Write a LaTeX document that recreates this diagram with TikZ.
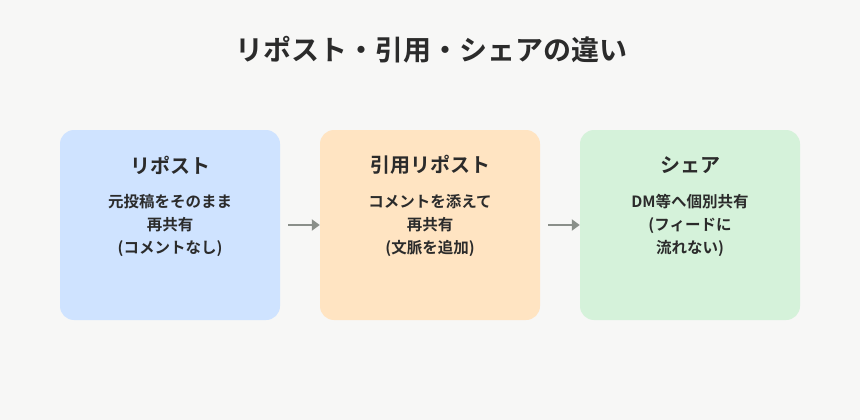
\documentclass[tikz,border=0pt]{standalone}
\usepackage{fontspec}
\setmainfont{Noto Sans CJK JP}[BoldFont={Noto Sans CJK JP Bold}]
\usetikzlibrary{arrows.meta}
\definecolor{bg}{HTML}{F7F7F6}
\definecolor{cb}{HTML}{CFE3FF}
\definecolor{co}{HTML}{FFE4C2}
\definecolor{cg}{HTML}{D5F2DA}
\definecolor{tx}{HTML}{2B2B2B}
\definecolor{ar}{HTML}{8A8F8A}
\begin{document}
\begin{tikzpicture}[x=1pt,y=-1pt,
  box/.style={rounded corners=14pt,minimum width=220pt,minimum height=190pt,inner sep=0pt},
  ttl/.style={font=\bfseries\fontsize{20}{24}\selectfont,text=tx},
  body/.style={font=\bfseries\fontsize{15.5}{23}\selectfont,text=tx,align=center},
  arr/.style={draw=ar,line width=2.4pt,-{Triangle[length=8pt,width=11pt]}}]
\fill[bg] (0,0) rectangle (860,420);
\node[font=\bfseries\fontsize{28}{32}\selectfont,text=tx] (title) at (431,50) {リポスト・引用・シェアの違い};
\node[box,fill=cb] (b1) at (170,225) {};
\node[box,fill=co] (b2) at (430,225) {};
\node[box,fill=cg] (b3) at (690,225) {};
\node[ttl] (t1) at (170,165) {リポスト};
\node[ttl] (t2) at (430,165) {引用リポスト};
\node[ttl] (t3) at (690,165) {シェア};
\node[body,anchor=north] (d1) at (170,191) {元投稿をそのまま\\再共有\\(コメントなし)};
\node[body,anchor=north] (d2) at (430,191) {コメントを添えて\\再共有\\(文脈を追加)};
\node[body,anchor=north] (d3) at (690,191) {DM等へ個別共有\\(フィードに\\流れない)};
\coordinate (a1) at (288,225);
\coordinate (a2) at (548,225);
\draw[arr] (a1) -- (b2.west);
\draw[arr] (a2) -- (b3.west);
\end{tikzpicture}
\end{document}
